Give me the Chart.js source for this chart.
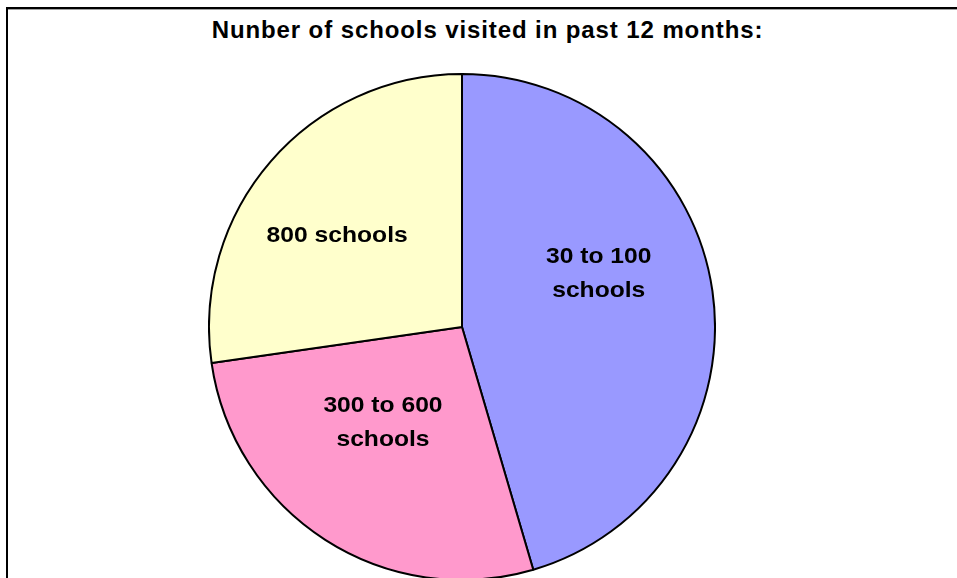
<!DOCTYPE html>
<html>
<head>
<meta charset="utf-8">
<script src="https://cdn.jsdelivr.net/npm/chart.js@4.4.0/dist/chart.umd.min.js"></script>
<style>
    html, body { margin: 0; padding: 0; background: #fff; overflow: hidden; }
    body { width: 957px; height: 578px; position: relative; }
    #frame {
        position: absolute; left: 6px; top: 7px; width: 1000px; height: 700px;
        border-top: 2px solid #000; border-left: 2px solid #000;
        box-shadow: inset 0 1px 0 #a0a0a0;
    }
    #title {
        position: absolute; left: 0; top: 18px; width: 975px; text-align: center;
        font: bold 24px "Liberation Sans", Arial, sans-serif; line-height: 24px;
        letter-spacing: 0.9px; color: #000;
    }
    #pie-box { position: absolute; left: 208px; top: 73px; width: 508px; height: 508px; }
</style>
</head>
<body>
<div id="frame"></div>
<div id="title">Nunber of schools visited in past 12 months:</div>
<div id="pie-box"><canvas id="schoolsPie"></canvas></div>
<script>
    // categories, read clockwise from 12 o'clock
    const categories = ['30 to 100 schools', '300 to 600 schools', '800 schools'];
    const labelLines = [['30 to 100', 'schools'], ['300 to 600', 'schools'], ['800 schools']];
    const visits = [5, 3, 3];
    const sliceColors = ['#9999FF', '#FF99CC', '#FFFFCC'];

    // where each label sits inside its slice (share of the slice angle, share of the radius)
    const labelAngle = [0.42, 0.57, 0.45];
    const labelRadius = [0.58, 0.49, 0.61];

    const sliceLabels = {
        id: 'sliceLabels',
        afterDatasetsDraw(chart) {
            const ctx = chart.ctx;
            const meta = chart.getDatasetMeta(0);
            meta.data.forEach((arc, i) => {
                const p = arc.getProps(['x', 'y', 'startAngle', 'endAngle', 'outerRadius'], true);
                const a = p.startAngle + (p.endAngle - p.startAngle) * labelAngle[i];
                const r = p.outerRadius * labelRadius[i];
                const cx = p.x + Math.cos(a) * r;
                const cy = p.y + Math.sin(a) * r;
                const lines = labelLines[i];
                ctx.save();
                ctx.font = 'bold 22px "Liberation Sans", Arial, sans-serif';
                ctx.textAlign = 'center';
                ctx.textBaseline = 'middle';
                ctx.fillStyle = '#000';
                lines.forEach((line, k) => {
                    const ly = cy + (k - (lines.length - 1) / 2) * 34;
                    ctx.save();
                    ctx.translate(cx, ly);
                    ctx.scale(1.12, 1);
                    ctx.fillText(line, 0, 0);
                    ctx.restore();
                });
                ctx.restore();
            });
        }
    };

    new Chart(document.getElementById('schoolsPie'), {
        type: 'pie',
        data: {
            labels: categories,
            datasets: [{
                data: visits,
                backgroundColor: sliceColors,
                borderColor: '#000',
                borderWidth: 2
            }]
        },
        options: {
            responsive: true,
            maintainAspectRatio: false,
            animation: false,
            devicePixelRatio: 1,
            layout: { padding: 0 },
            plugins: {
                legend: { display: false },
                tooltip: { enabled: false },
                title: { display: false }
            }
        },
        plugins: [sliceLabels]
    });
</script>
</body>
</html>
